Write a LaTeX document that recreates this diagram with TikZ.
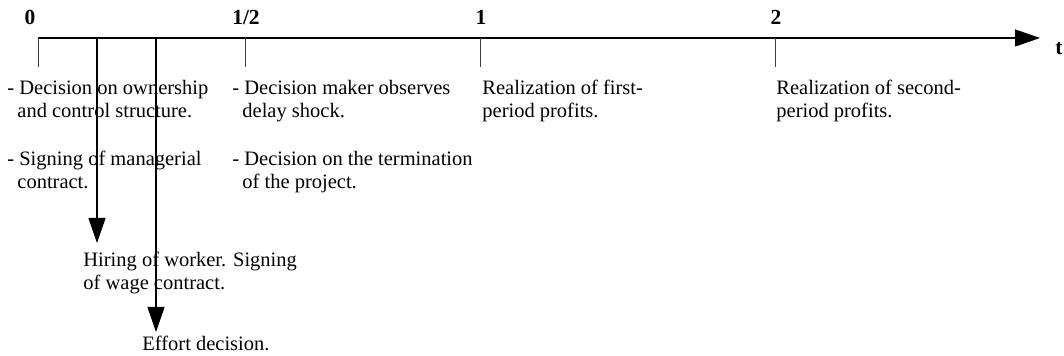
\documentclass[tikz,border=0pt]{standalone}
\usepackage{fontspec}
\setmainfont{Liberation Serif}
\usetikzlibrary{arrows.meta}

\begin{document}
\begin{tikzpicture}[
    x=0.5pt, y=0.5pt,
    event/.style={
        anchor=base west,
        align=left,
        inner sep=0pt,
        font=\fontsize{10.25pt}{11.5pt}\selectfont
    },
    period/.style={
        anchor=base,
        inner sep=0pt,
        font=\fontsize{10.75pt}{11.5pt}\selectfont\bfseries
    },
    axis/.style={
        line width=0.6pt,
        -{Triangle[length=12.5pt,width=8.5pt]}
    },
    tick/.style={
        line width=0.5pt,
        black!75
    },
    arrowdown/.style={
        line width=0.6pt,
        -{Triangle[length=12.5pt,width=8.5pt]}
    }
]
\useasboundingbox (0,0) rectangle (1064,-356);

% Timeline axis
\coordinate (start) at (38,-38);
\coordinate (stop) at (1040,-38);
\draw[axis] (start) -- (stop);
\node[period] (t) at (1059,-55) {t};

% Periods
\node[period] (p0) at (30,-25) {0};
\node[period] (phalf) at (246,-25) {1/2};
\node[period] (p1) at (481,-25) {1};
\node[period] (p2) at (776,-25) {2};

% Ticks
\coordinate (tick0) at (38,-38);
\coordinate (tick0b) at (38,-67);
\coordinate (tickhalf) at (245,-38);
\coordinate (tickhalfb) at (245,-67);
\coordinate (tick1) at (480,-38);
\coordinate (tick1b) at (480,-67);
\coordinate (tick2) at (775,-38);
\coordinate (tick2b) at (775,-67);
\draw[tick] (tick0) -- (tick0b);
\draw[tick] (tickhalf) -- (tickhalfb);
\draw[tick] (tick1) -- (tick1b);
\draw[tick] (tick2) -- (tick2b);

% Date 0 (placed at baseline of last line)
\node[event] (owner) at (7,-118) {- Decision on ownership\\\hspace*{5pt}and control structure.};
\node[event] (manager) at (7,-189) {- Signing of managerial\\\hspace*{5pt}contract.};

% Date 1/2
\node[event] (shock) at (232,-118) {- Decision maker observes\\\hspace*{5pt}delay shock.};
\node[event] (stopping) at (232,-189) {- Decision on the termination\\\hspace*{5pt}of the project.};

% Dates 1 and 2
\node[event] (profit1) at (482,-118) {Realization of first-\\period profits.};
\node[event] (profit2) at (776,-118) {Realization of second-\\period profits.};

% Between 0 and 1/2
\node[event] (hiring) at (83,-290) {Hiring of worker. Signing\\of wage contract.};
\node[event] (effort) at (142,-351) {Effort decision.};

\coordinate (hireTop) at (97,-38);
\coordinate (hireEnd) at (97,-243);
\coordinate (effortTop) at (156,-38);
\coordinate (effortEnd) at (156,-332);
\draw[arrowdown] (hireTop) -- (hireEnd);
\draw[arrowdown] (effortTop) -- (effortEnd);

\end{tikzpicture}
\end{document}
